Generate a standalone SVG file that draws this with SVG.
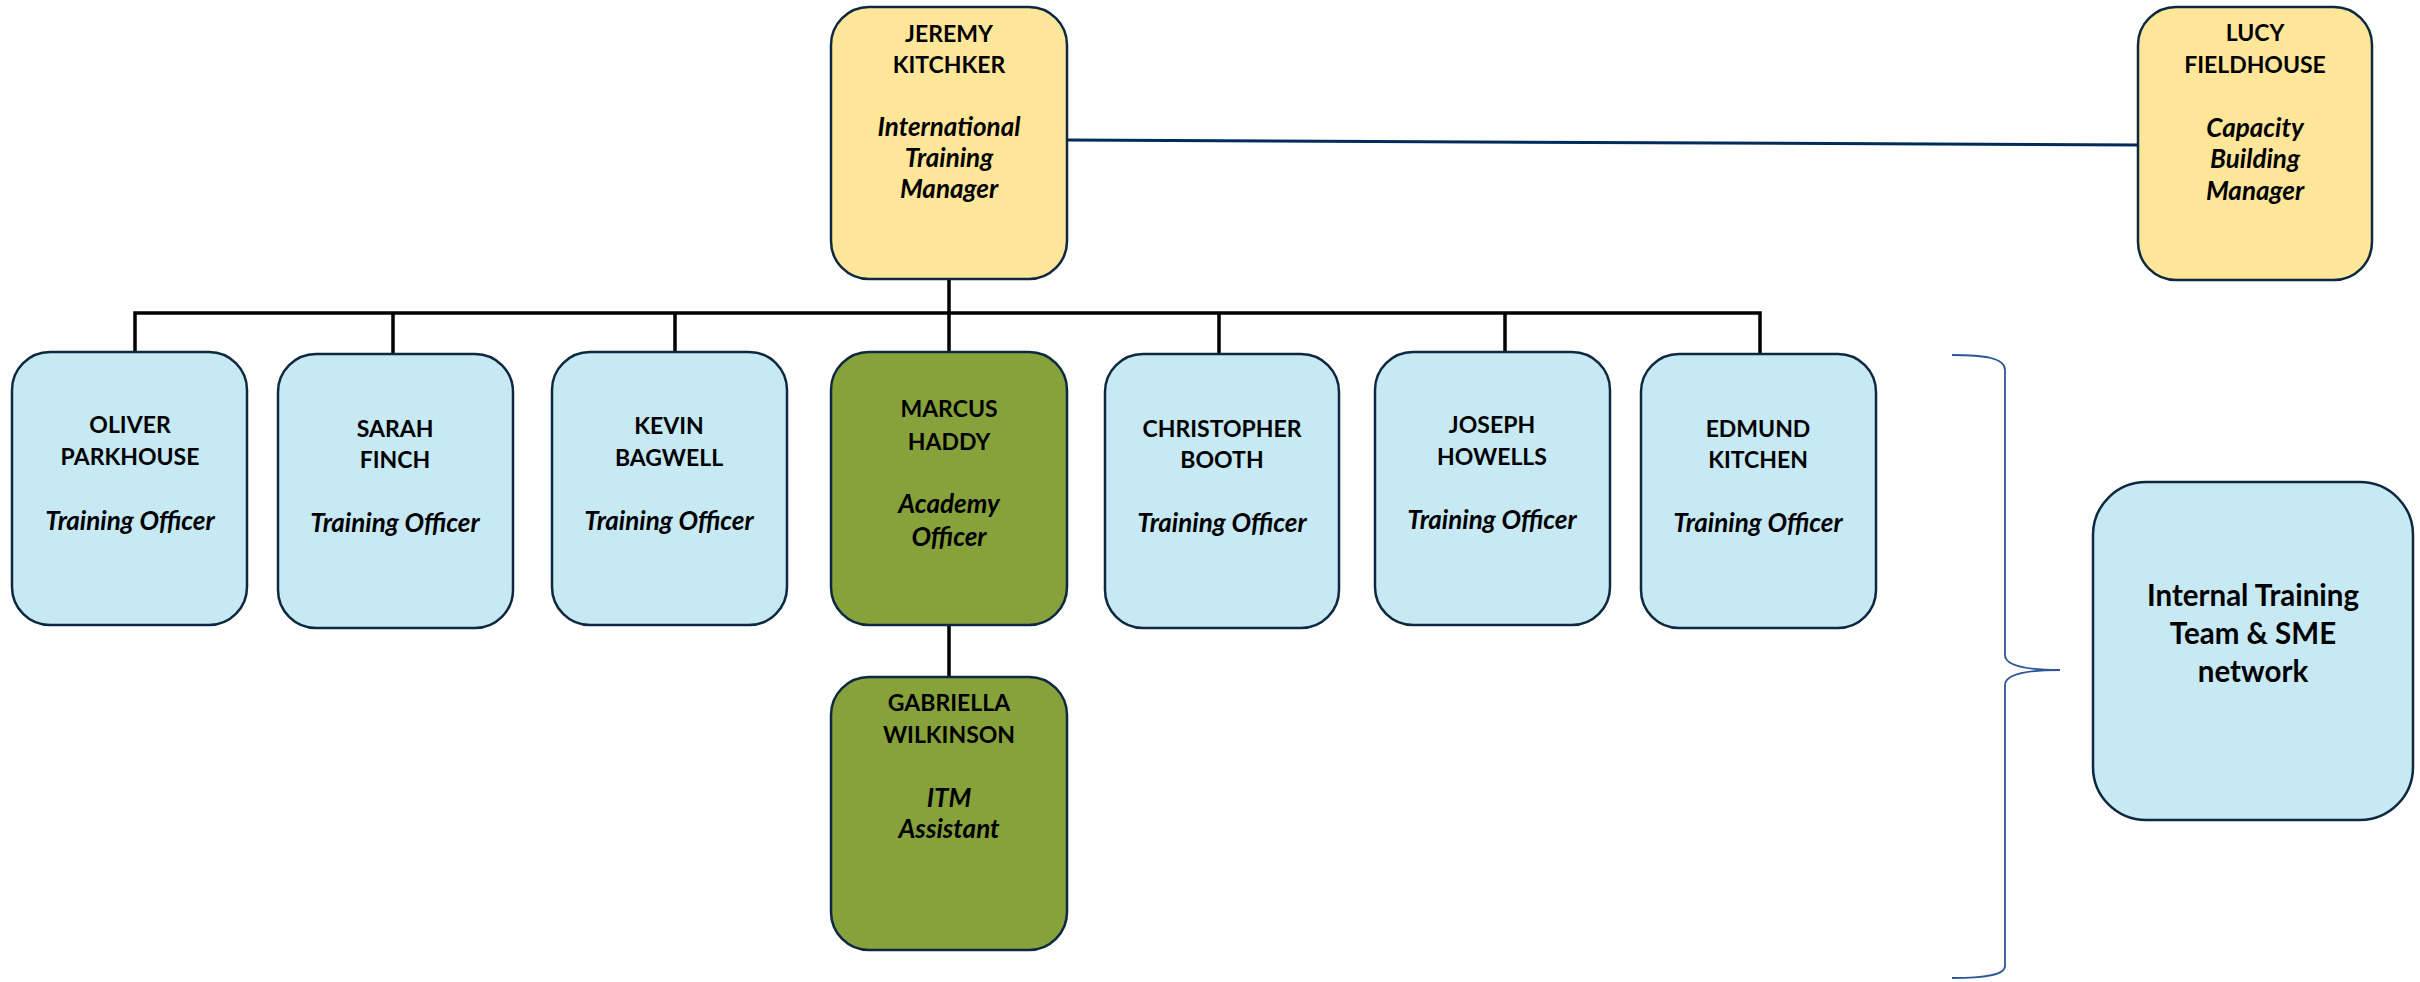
<svg xmlns="http://www.w3.org/2000/svg" width="2420" height="982" viewBox="0 0 2420 982">
<style>
.box{stroke:#0E2841;stroke-width:2.5}
.y{fill:#FFE699}
.b{fill:#C6E9F4}
.g{fill:#88A23B}
.n{font-family:Lato,"Liberation Sans",sans-serif;font-weight:bold;font-size:23px;fill:#000;text-anchor:middle}
.r{font-family:Lato,"Liberation Sans",sans-serif;font-weight:bold;font-style:italic;font-size:26px;fill:#000;text-anchor:middle}
.big{font-family:Lato,"Liberation Sans",sans-serif;font-weight:bold;font-size:29.5px;fill:#000;text-anchor:middle}
.k{stroke:#000;stroke-width:3.5;fill:none}
</style>
<rect width="2420" height="982" fill="#fff"/>
<g id="connectors">
<path class="k" d="M949,279 V313 M135,352 V313 H1760 V354 M393,313 V354 M675,313 V352 M949,313 V352 M1219,313 V354 M1505,313 V352 M949,625 V677"/>
<line x1="1067" y1="140" x2="2138" y2="145" stroke="#002B5C" stroke-width="3"/>
<path d="M1952,355 C1985,355 2005,358 2005,370 L2005,655 C2005,667 2030,670 2060,670 C2030,670 2005,673 2005,685 L2005,966 C2005,975 1985,978 1952,978" fill="none" stroke="#2F5597" stroke-width="1.8"/>
</g>
<g id="jeremy">
<rect class="box y" x="831" y="7" width="236" height="272" rx="38"/>
<text class="n" x="949" y="42">JEREMY</text>
<text class="n" x="949" y="73">KITCHKER</text>
<text class="r" x="949" y="136">International</text>
<text class="r" x="949" y="167">Training</text>
<text class="r" x="949" y="198">Manager</text>
</g>
<g id="lucy">
<rect class="box y" x="2138" y="7" width="234" height="273" rx="38"/>
<text class="n" x="2255" y="41">LUCY</text>
<text class="n" x="2255" y="73">FIELDHOUSE</text>
<text class="r" x="2255" y="137">Capacity</text>
<text class="r" x="2255" y="168">Building</text>
<text class="r" x="2255" y="200">Manager</text>
</g>
<g id="oliver">
<rect class="box b" x="12" y="352" width="235" height="273" rx="38"/>
<text class="n" x="130" y="433">OLIVER</text>
<text class="n" x="130" y="465">PARKHOUSE</text>
<text class="r" x="130" y="530">Training Officer</text>
</g>
<g id="sarah">
<rect class="box b" x="278" y="354" width="235" height="274" rx="38"/>
<text class="n" x="395" y="437">SARAH</text>
<text class="n" x="395" y="468">FINCH</text>
<text class="r" x="395" y="532">Training Officer</text>
</g>
<g id="kevin">
<rect class="box b" x="552" y="352" width="235" height="273" rx="38"/>
<text class="n" x="669" y="434">KEVIN</text>
<text class="n" x="669" y="466">BAGWELL</text>
<text class="r" x="669" y="530">Training Officer</text>
</g>
<g id="marcus">
<rect class="box g" x="831" y="352" width="236" height="273" rx="38"/>
<text class="n" x="949" y="417">MARCUS</text>
<text class="n" x="949" y="450">HADDY</text>
<text class="r" x="949" y="513">Academy</text>
<text class="r" x="949" y="546">Officer</text>
</g>
<g id="christopher">
<rect class="box b" x="1105" y="354" width="234" height="274" rx="38"/>
<text class="n" x="1222" y="437">CHRISTOPHER</text>
<text class="n" x="1222" y="468">BOOTH</text>
<text class="r" x="1222" y="532">Training Officer</text>
</g>
<g id="joseph">
<rect class="box b" x="1375" y="352" width="235" height="273" rx="38"/>
<text class="n" x="1492" y="433">JOSEPH</text>
<text class="n" x="1492" y="465">HOWELLS</text>
<text class="r" x="1492" y="529">Training Officer</text>
</g>
<g id="edmund">
<rect class="box b" x="1641" y="354" width="235" height="274" rx="38"/>
<text class="n" x="1758" y="437">EDMUND</text>
<text class="n" x="1758" y="468">KITCHEN</text>
<text class="r" x="1758" y="532">Training Officer</text>
</g>
<g id="gabriella">
<rect class="box g" x="831" y="677" width="236" height="273" rx="38"/>
<text class="n" x="949" y="711">GABRIELLA</text>
<text class="n" x="949" y="743">WILKINSON</text>
<text class="r" x="949" y="807">ITM</text>
<text class="r" x="949" y="838">Assistant</text>
</g>
<g id="internal">
<rect class="box b" x="2093" y="482" width="320" height="338" rx="53"/>
<text class="big" x="2253" y="606">Internal Training</text>
<text class="big" x="2253" y="644">Team &amp; SME</text>
<text class="big" x="2253" y="682">network</text>
</g>
</svg>
